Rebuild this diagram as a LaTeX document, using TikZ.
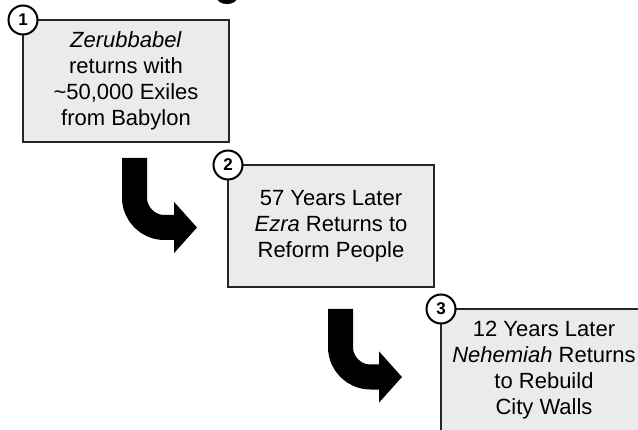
\documentclass[tikz,border=0pt]{standalone}
\usepackage{fontspec}
\setmainfont{Liberation Sans}
\usetikzlibrary{positioning,arrows.meta}

\begin{document}
\begin{tikzpicture}[x=1pt,y=1pt]
\tikzstyle{stepbox}=[rectangle, draw=black!85, line width=2pt, fill=black!8, outer sep=0pt, minimum width=206pt, minimum height=122pt, align=center, font=\fontsize{22}{26}\selectfont]
\tikzstyle{num}=[circle, draw=black, line width=2pt, fill=white, minimum size=29pt, inner sep=0pt, font=\fontsize{17}{17}\selectfont\bfseries]
\tikzstyle{bentarrow}=[line width=25pt, rounded corners=30pt, -{Triangle[length=23pt,width=50pt]}]
  \useasboundingbox (0,0) rectangle (638,429);
  \clip (0,0) rectangle (638,429);
  % cut-off glyph at the top
  \fill (227,431) ellipse (10pt and 6pt);
  % step 1
  \node[stepbox] (zer) at (126,348) {\textit{Zerubbabel}\\returns with\\\textasciitilde50,000 Exiles\\from Babylon};
  % step 2
  \node[stepbox] (ezra) [below right=23pt and -1pt of zer] {57 Years Later\\\textit{Ezra} Returns to\\Reform People};
  % step 3
  \node[stepbox] (neh) [below right=22pt and 7pt of ezra] {12 Years Later\\\textit{Nehemiah} Returns\\to Rebuild\\City Walls};
  % numbers
  \node[num] (n1) at (zer.north west) {1};
  \node[num] (n2) at (ezra.north west) {2};
  \node[num] (n3) at (neh.north west) {3};
  % bent arrows
  \draw[bentarrow] ([shift={(8.5pt,-16pt)}]zer.south) |- ([shift={(-31pt,-1.5pt)}]ezra.west);
  \draw[bentarrow] ([shift={(9.5pt,-22pt)}]ezra.south) |- ([shift={(-39pt,-7pt)}]neh.west);
\end{tikzpicture}
\end{document}
